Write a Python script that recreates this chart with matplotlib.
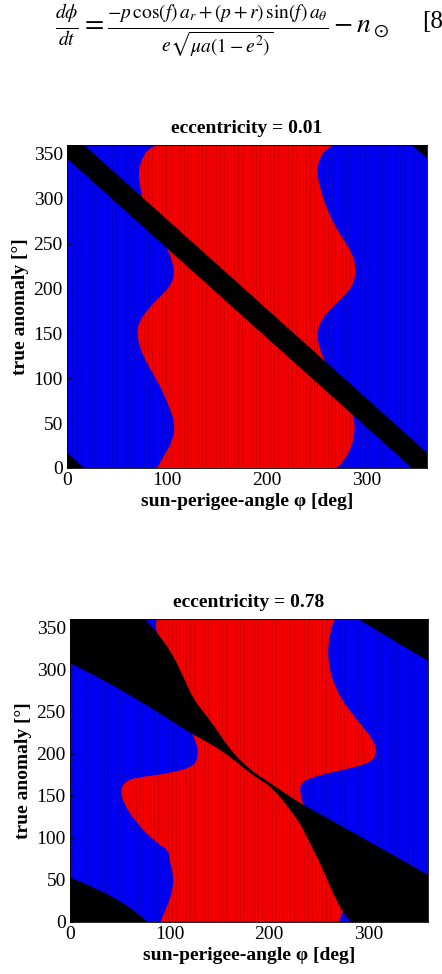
import matplotlib
matplotlib.use('Agg')
import matplotlib.pyplot as plt
from matplotlib.path import Path
from matplotlib.patches import PathPatch
import numpy as np

plt.rcParams['font.family'] = ['Liberation Serif', 'DejaVu Serif']
plt.rcParams['mathtext.fontset'] = 'stix'

# ---------------- data ----------------
axis_range = [0, 360]
x_ticks = [0, 100, 200, 300]
y_ticks = [0, 50, 100, 150, 200, 250, 300, 350]
titles = ['eccentricity = 0.01', 'eccentricity = 0.78']

# e = 0.01 : red region boundaries (true anomaly f -> phi)
e1_red_left_f = [0, 12, 31, 50, 72, 98, 124, 146, 161, 176, 191, 202, 217, 239, 260, 280, 291, 302, 321, 335, 347, 355, 360]
e1_red_left_phi = [90, 96, 106, 108, 101, 90, 76, 70, 71, 80, 93, 103, 108, 103, 93, 82, 77, 75, 72, 72, 76, 81, 90]
e1_red_right_f = [0, 9, 30, 55, 80, 100, 113, 135, 150, 165, 180, 195, 206, 224, 240, 254, 270, 291, 313, 328, 340, 352, 360]
e1_red_right_phi = [270, 278, 287, 288, 282, 272, 260, 252, 250, 254, 266, 280, 287, 289, 285, 277, 268, 259, 253, 250, 251, 256, 266]

# e = 0.01 : black band regions (phi, f vertices)
e1_black_main_phi = [0, 0, 17, 360, 360, 345]
e1_black_main_f = [345, 360, 360, 17, 0, 0]
e1_black_bl_phi = [0, 0, 17]
e1_black_bl_f = [0, 17, 0]
e1_black_tr_phi = [345, 360, 360]
e1_black_tr_f = [360, 360, 345]

# e = 0.78 : red region boundaries
e2_red_left_f = [0, 14, 33.8, 53.6, 69.5, 85, 93.3, 117, 141, 156.8, 168.7, 172.6, 176.7, 184.5, 196.4, 212.4, 224, 240, 260, 290, 320, 346, 360]
e2_red_left_phi = [91, 96, 102.7, 104.4, 100.6, 99.3, 87.2, 67, 53.7, 50.3, 57, 73.8, 100.6, 124, 129, 127.5, 122, 125, 112, 100, 95, 86, 87]
e2_red_right_f = [0, 10, 30, 70, 93, 117, 133, 141, 152.8, 164.8, 172.6, 180.6, 188.6, 200.5, 216.3, 240, 272, 311.6, 347, 360]
e2_red_right_phi = [270, 274, 280, 266, 256, 246, 238, 234, 231.5, 231.5, 244.9, 275, 302, 308.7, 305.3, 288.5, 268.4, 258.3, 261.7, 266.7]

# e = 0.78 : black regions
e2_black_main_phi = [0, 75.5, 86, 100.6, 114, 124, 141, 161, 181, 200, 221.4, 231.5, 298.6, 360, 360,
                     283, 275, 266, 258, 251.6, 241.5, 231.5, 221.4, 205, 190, 181, 161, 141, 120.8, 100.6, 73.8, 33.6, 0]
e2_black_main_f = [360, 360, 346, 323.5, 291.7, 264, 240, 204, 180.6, 166, 148.8, 141, 97, 55.6, 0,
                   0, 10, 30, 52, 69.5, 93, 117, 133, 158, 170, 176.7, 196.4, 212, 224.3, 240, 260, 287.7, 307.6]
e2_black_main_sharp = [0, 1, 13, 14, 15, 32]
e2_black_tr_phi = [290, 360, 360]
e2_black_tr_f = [360, 360, 309.5]
e2_black_bl_phi = [0, 0, 25.5, 49, 65.7, 77.5]
e2_black_bl_f = [0, 52.9, 39.8, 25.8, 11.9, 0]
e2_black_bl_sharp = [0, 1, 5]

BLUE = '#0000f5'
RED = '#f50000'
BLACK = '#000000'


def smooth_region(xs, ys, sharp):
    """Closed region drawn as a quadratic B-spline path whose control
    polygon is the read-off outline; listed vertices stay sharp corners."""
    ctrl = []
    for i, (x, y) in enumerate(zip(xs, ys)):
        ctrl.append((x, y))
        if i in sharp:
            ctrl.append((x, y))
    ctrl = np.asarray(ctrl, float)
    n = len(ctrl)
    mids = (ctrl + np.roll(ctrl, -1, axis=0)) / 2.0
    verts = [mids[-1]]
    codes = [Path.MOVETO]
    for i in range(n):
        verts += [ctrl[i], mids[i]]
        codes += [Path.CURVE3, Path.CURVE3]
    verts.append(mids[-1])
    codes.append(Path.CLOSEPOLY)
    return Path(verts, codes)


panels = [
    dict(title=titles[0],
         red=(e1_red_left_f, e1_red_left_phi, e1_red_right_f, e1_red_right_phi),
         black=[(e1_black_main_phi, e1_black_main_f, None), (e1_black_bl_phi, e1_black_bl_f, None),
                (e1_black_tr_phi, e1_black_tr_f, None)],
         rect=[67 / 442, 1 - 468 / 974, 360 / 442, 323 / 974]),
    dict(title=titles[1],
         red=(e2_red_left_f, e2_red_left_phi, e2_red_right_f, e2_red_right_phi),
         black=[(e2_black_main_phi, e2_black_main_f, e2_black_main_sharp), (e2_black_tr_phi, e2_black_tr_f, None),
                (e2_black_bl_phi, e2_black_bl_f, e2_black_bl_sharp)],
         rect=[70 / 442, 1 - 921.7 / 974, 358 / 442, 302.7 / 974]),
]

fig = plt.figure(figsize=(4.42, 9.74), dpi=100)

eq = (r'$\frac{d\phi}{dt}=\frac{-p\,\cos(f)\,a_r+(p+r)\,\sin(f)\,a_\theta}'
      r'{e\sqrt{\mu a(1-e^2)}}-n_\odot$')
fig.text(222 / 442, 1 - 31 / 974, eq, ha='center', va='center', fontsize=20)
fig.text(422 / 442, 1 - 22 / 974, '[8', ha='left', va='center', fontsize=18)

for p in panels:
    ax = fig.add_axes(p['rect'])
    # blue background region
    ax.fill_between(axis_range, axis_range[0], axis_range[1], color=BLUE, lw=0, zorder=1)
    lf, lp, rf, rp = p['red']
    rx = list(lp) + list(rp[::-1])
    ry = list(lf) + list(rf[::-1])
    nl = len(lp)
    red_sharp = [0, nl - 1, nl, len(rx) - 1]
    ax.add_patch(PathPatch(smooth_region(rx, ry, red_sharp), facecolor=RED, lw=0, zorder=2))
    # faint pcolor-like vertical cell edges
    ax.vlines(np.arange(1.8, 360, 3.6), 0, 360, colors='k', linewidth=0.5, alpha=0.18, zorder=3)
    for bx, by, sharp in p['black']:
        if sharp is None:
            ax.fill(bx, by, color=BLACK, lw=0, zorder=4)
        else:
            ax.add_patch(PathPatch(smooth_region(bx, by, sharp), facecolor=BLACK, lw=0, zorder=4))
    ax.set_xlim(axis_range)
    ax.set_ylim(axis_range)
    ax.set_xticks(x_ticks)
    ax.set_yticks(y_ticks)
    ax.tick_params(direction='in', length=3, width=0.5, labelsize=14, pad=3)
    for s in ax.spines.values():
        s.set_linewidth(0.6)
        s.set_zorder(6)
    ax.set_title(p['title'], fontsize=14, fontweight='bold', pad=9)
    ax.set_xlabel('sun-perigee-angle \u03c6 [deg]', fontsize=14, fontweight='bold', labelpad=3)
    ax.set_ylabel('true anomaly [\u00b0]', fontsize=14, fontweight='bold', labelpad=3)

fig.savefig('out.png', dpi=100)
